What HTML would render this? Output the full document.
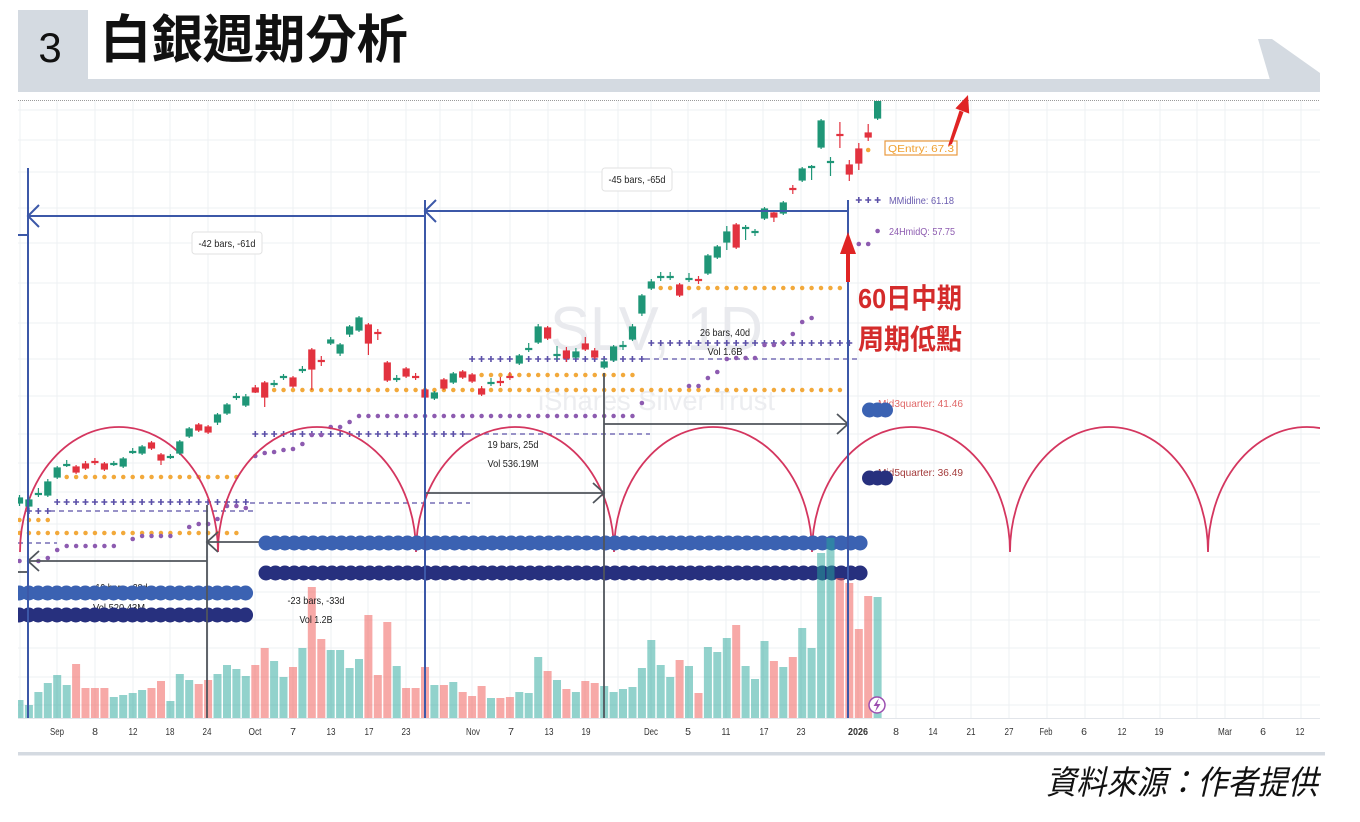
<!DOCTYPE html>
<html><head><meta charset="utf-8"><style>
html,body{margin:0;padding:0;background:#fff;}
svg{display:block;}
text{font-family:"Liberation Sans","Noto Sans CJK TC",sans-serif;}
</style></head><body>
<svg width="1360" height="822" viewBox="0 0 1360 822" xmlns="http://www.w3.org/2000/svg">
<defs><clipPath id="pc"><rect x="18" y="101" width="1302" height="617"/></clipPath></defs>
<!-- header -->
<rect x="18" y="10" width="70" height="69" fill="#d4dae1"/>
<rect x="18" y="79" width="1302" height="13" fill="#d4dae1"/>
<polygon points="1258,39 1272,39 1320,73 1320,80 1270,80" fill="#d4dae1"/>
<text x="50" y="62" font-size="42" text-anchor="middle" fill="#111">3</text>
<text x="100" y="58" font-size="52" font-weight="700" fill="#111" textLength="308" lengthAdjust="spacingAndGlyphs" style="font-family:'Liberation Sans','Noto Sans CJK TC',sans-serif">白銀週期分析</text>
<line x1="18" y1="100.5" x2="1320" y2="100.5" stroke="#9a9a9a" stroke-width="1" stroke-dasharray="1 1"/>

<!-- grid -->
<path d="M20,101V718M57,101V718M95,101V718M133,101V718M170,101V718M208,101V718M255,101V718M293,101V718M331,101V718M368,101V718M406,101V718M440,101V718M472,101V718M510,101V718M548,101V718M585,101V718M618,101V718M651,101V718M688,101V718M726,101V718M763,101V718M801,101V718M829,101V718M858,101V718M896,101V718M934,101V718M971,101V718M1009,101V718M1047,101V718M1085,101V718M1123,101V718M1160,101V718M1197,101V718M1225,101V718M1263,101V718M1301,101V718" stroke="#eef0f3" stroke-width="1" fill="none"/>
<path d="M18,110H1320M18,140H1320M18,172H1320M18,208H1320M18,243H1320M18,283H1320M18,323H1320M18,359H1320M18,396H1320M18,434H1320M18,463H1320M18,492H1320M18,524H1320M18,557H1320M18,592H1320M18,620H1320M18,648H1320M18,677H1320M18,705H1320" stroke="#eef0f3" stroke-width="1" fill="none"/>
<line x1="18" y1="718.5" x2="1320" y2="718.5" stroke="#e2e5ea" stroke-width="1"/>

<!-- watermark -->
<text x="550" y="350" font-size="62" fill="#e9eaee" textLength="213" lengthAdjust="spacingAndGlyphs">SLV, 1D</text>
<text x="538" y="410" font-size="28" fill="#ecedf0" textLength="237" lengthAdjust="spacingAndGlyphs">iShares Silver Trust</text>

<g clip-path="url(#pc)">
<!-- orange dots -->
<g stroke="#f2a93b" stroke-width="4.5" stroke-linecap="round" stroke-dasharray="0 9.43" fill="none">
<line x1="66.7" y1="477" x2="245.8" y2="477"/>
<line x1="19.5" y1="533" x2="245.8" y2="533"/>
<line x1="19.5" y1="520" x2="47.8" y2="520"/>
<line x1="264.7" y1="390" x2="849.3" y2="390"/>
<line x1="481.6" y1="375" x2="641.9" y2="375"/>
<line x1="660.7" y1="288" x2="849.3" y2="288"/>
<line x1="868.2" y1="150" x2="877.6" y2="150"/>
</g>
<!-- purple crosses -->
<g stroke="#5b50a8" fill="none">
<g stroke-width="1.6" stroke-dasharray="6 3.43">
<line x1="54.2" y1="502" x2="248.8" y2="502"/>
<line x1="25.9" y1="511" x2="50.8" y2="511"/>
<line x1="252.3" y1="434" x2="465.7" y2="434"/>
<line x1="469.1" y1="359" x2="644.9" y2="359"/>
<line x1="648.3" y1="343" x2="852.3" y2="343"/>
<line x1="855.8" y1="200" x2="880.6" y2="200"/>
</g>
<g stroke-width="6" stroke-dasharray="1.6 7.83">
<line x1="56.4" y1="502" x2="246.6" y2="502"/>
<line x1="28.1" y1="511" x2="48.6" y2="511"/>
<line x1="254.5" y1="434" x2="463.5" y2="434"/>
<line x1="471.3" y1="359" x2="642.7" y2="359"/>
<line x1="650.5" y1="343" x2="850.1" y2="343"/>
<line x1="858" y1="200" x2="878.4" y2="200"/>
</g>
<g stroke-width="1.2" stroke-dasharray="5 4">
<line x1="50" y1="511" x2="257" y2="511"/>
<line x1="250" y1="503" x2="470" y2="503"/>
<line x1="466" y1="434" x2="650" y2="434"/>
<line x1="645" y1="359" x2="858" y2="359"/>
<line x1="18" y1="543" x2="57" y2="543"/>
</g>
</g>
<!-- purple dots -->
<g fill="#8d5bb0">
<g stroke="#8d5bb0" stroke-width="4.5" stroke-linecap="round" stroke-dasharray="0 9.43" fill="none">
<line x1="66.7" y1="546" x2="123.2" y2="546"/>
<line x1="142.1" y1="536" x2="179.8" y2="536"/>
<line x1="359" y1="416" x2="632.5" y2="416"/>
</g>
<circle cx="19.5" cy="561" r="2.3"/><circle cx="38.4" cy="561" r="2.3"/><circle cx="47.8" cy="558" r="2.3"/><circle cx="57.2" cy="550" r="2.3"/>
<circle cx="132.7" cy="539" r="2.3"/><circle cx="189.2" cy="527" r="2.3"/><circle cx="198.7" cy="524" r="2.3"/><circle cx="208.1" cy="524" r="2.3"/><circle cx="217.5" cy="519" r="2.3"/><circle cx="227" cy="506" r="2.3"/><circle cx="236.4" cy="506" r="2.3"/><circle cx="245.8" cy="508" r="2.3"/>
<circle cx="255.3" cy="456" r="2.3"/><circle cx="264.7" cy="453" r="2.3"/><circle cx="274.1" cy="452" r="2.3"/><circle cx="283.5" cy="450" r="2.3"/><circle cx="293" cy="449" r="2.3"/><circle cx="302.4" cy="444" r="2.3"/><circle cx="311.8" cy="435" r="2.3"/><circle cx="321.3" cy="435" r="2.3"/><circle cx="330.7" cy="427" r="2.3"/><circle cx="340.1" cy="427" r="2.3"/><circle cx="349.6" cy="422" r="2.3"/>
<circle cx="641.9" cy="403" r="2.3"/><circle cx="689" cy="386" r="2.3"/><circle cx="698.5" cy="386" r="2.3"/><circle cx="707.9" cy="378" r="2.3"/><circle cx="717.3" cy="372" r="2.3"/><circle cx="726.8" cy="359" r="2.3"/><circle cx="736.2" cy="358" r="2.3"/><circle cx="745.6" cy="358" r="2.3"/><circle cx="755" cy="358" r="2.3"/><circle cx="764.5" cy="345" r="2.3"/><circle cx="773.9" cy="345" r="2.3"/><circle cx="783.3" cy="343" r="2.3"/><circle cx="792.8" cy="334" r="2.3"/><circle cx="802.2" cy="322" r="2.3"/><circle cx="811.6" cy="318" r="2.3"/>
<circle cx="858.8" cy="244" r="2.3"/><circle cx="868.2" cy="244" r="2.3"/><circle cx="877.6" cy="231" r="2.3"/>
</g>

<!-- cycle arcs -->
<path d="M20,552A99,125 0 0 1 218,552A99,125 0 0 1 416,552A99,125 0 0 1 614,552A99,125 0 0 1 812,552A99,125 0 0 1 1010,552A99,125 0 0 1 1208,552A99,125 0 0 1 1406,552" fill="none" stroke="#d4365f" stroke-width="1.8"/>

<!-- hidden labels under dots -->
<g font-size="10.5" fill="#222" text-anchor="middle">
<text x="120" y="591" textLength="55" lengthAdjust="spacingAndGlyphs">-19 bars, -28d</text>
<text x="119" y="611" textLength="52" lengthAdjust="spacingAndGlyphs">Vol 520.43M</text>
</g>
<line x1="207" y1="542" x2="425" y2="542" stroke="#50555c" stroke-width="1.8"/>

<!-- big dot rows -->
<g fill="none" stroke-linecap="round" stroke-dasharray="0 9.43" stroke-width="15">
<line x1="266" y1="543" x2="860.1" y2="543" stroke="#3b62b2"/>
<line x1="266" y1="573" x2="860.1" y2="573" stroke="#27307e"/>
<line x1="19.25" y1="593" x2="255" y2="593" stroke="#3b62b2"/>
<line x1="19.25" y1="615" x2="255" y2="615" stroke="#27307e"/>
</g>

<!-- volume -->
<g fill="rgba(38,166,154,0.5)">
<rect x="15.5" y="700" width="8" height="18"/><rect x="24.9" y="705" width="8" height="13"/><rect x="34.4" y="692" width="8" height="26"/><rect x="43.8" y="683" width="8" height="35"/><rect x="53.2" y="675" width="8" height="43"/><rect x="62.7" y="685" width="8" height="33"/>
<rect x="109.8" y="697" width="8" height="21"/><rect x="119.2" y="695" width="8" height="23"/><rect x="128.7" y="693" width="8" height="25"/><rect x="138.1" y="690" width="8" height="28"/>
<rect x="166.4" y="701" width="8" height="17"/><rect x="175.8" y="674" width="8" height="44"/><rect x="185.2" y="680" width="8" height="38"/>
<rect x="213.5" y="674" width="8" height="44"/><rect x="223" y="665" width="8" height="53"/><rect x="232.4" y="669" width="8" height="49"/><rect x="241.8" y="676" width="8" height="42"/>
<rect x="270.1" y="661" width="8" height="57"/><rect x="279.5" y="677" width="8" height="41"/><rect x="298.4" y="648" width="8" height="70"/>
<rect x="326.7" y="650" width="8" height="68"/><rect x="336.1" y="650" width="8" height="68"/><rect x="345.6" y="668" width="8" height="50"/><rect x="355" y="659" width="8" height="59"/>
<rect x="392.7" y="666" width="8" height="52"/><rect x="430.4" y="685" width="8" height="33"/><rect x="449.3" y="682" width="8" height="36"/><rect x="487" y="698" width="8" height="20"/>
<rect x="515.3" y="692" width="8" height="26"/><rect x="524.7" y="693" width="8" height="25"/><rect x="534.2" y="657" width="8" height="61"/><rect x="553" y="680" width="8" height="38"/><rect x="571.9" y="692" width="8" height="26"/>
<rect x="600.2" y="686" width="8" height="32"/><rect x="609.6" y="692" width="8" height="26"/><rect x="619" y="689" width="8" height="29"/><rect x="628.5" y="687" width="8" height="31"/><rect x="637.9" y="668" width="8" height="50"/><rect x="647.3" y="640" width="8" height="78"/><rect x="656.7" y="665" width="8" height="53"/><rect x="666.2" y="677" width="8" height="41"/>
<rect x="685" y="666" width="8" height="52"/><rect x="703.9" y="647" width="8" height="71"/><rect x="713.3" y="652" width="8" height="66"/><rect x="722.8" y="638" width="8" height="80"/>
<rect x="741.6" y="666" width="8" height="52"/><rect x="751" y="679" width="8" height="39"/><rect x="760.5" y="641" width="8" height="77"/><rect x="779.3" y="667" width="8" height="51"/>
<rect x="798.2" y="628" width="8" height="90"/><rect x="807.6" y="648" width="8" height="70"/><rect x="817.1" y="553" width="8" height="165"/><rect x="826.5" y="538" width="8" height="180"/><rect x="873.6" y="597" width="8" height="121"/>
</g>
<g fill="rgba(239,83,80,0.5)">
<rect x="72.1" y="664" width="8" height="54"/><rect x="81.5" y="688" width="8" height="30"/><rect x="90.9" y="688" width="8" height="30"/><rect x="100.4" y="688" width="8" height="30"/>
<rect x="147.5" y="688" width="8" height="30"/><rect x="157" y="681" width="8" height="37"/><rect x="194.7" y="684" width="8" height="34"/><rect x="204.1" y="680" width="8" height="38"/>
<rect x="251.3" y="665" width="8" height="53"/><rect x="260.7" y="648" width="8" height="70"/><rect x="289" y="667" width="8" height="51"/><rect x="307.8" y="587" width="8" height="131"/><rect x="317.3" y="639" width="8" height="79"/>
<rect x="364.4" y="615" width="8" height="103"/><rect x="373.8" y="675" width="8" height="43"/><rect x="383.3" y="622" width="8" height="96"/>
<rect x="402.1" y="688" width="8" height="30"/><rect x="411.6" y="688" width="8" height="30"/><rect x="421" y="667" width="8" height="51"/><rect x="439.9" y="685" width="8" height="33"/>
<rect x="458.7" y="692" width="8" height="26"/><rect x="468.1" y="696" width="8" height="22"/><rect x="477.6" y="686" width="8" height="32"/><rect x="496.4" y="698" width="8" height="20"/><rect x="505.9" y="697" width="8" height="21"/>
<rect x="543.6" y="671" width="8" height="47"/><rect x="562.4" y="689" width="8" height="29"/><rect x="581.3" y="681" width="8" height="37"/><rect x="590.7" y="683" width="8" height="35"/>
<rect x="675.6" y="660" width="8" height="58"/><rect x="694.5" y="693" width="8" height="25"/><rect x="732.2" y="625" width="8" height="93"/><rect x="769.9" y="661" width="8" height="57"/><rect x="788.8" y="657" width="8" height="61"/>
<rect x="835.9" y="578" width="8" height="140"/><rect x="845.3" y="583" width="8" height="135"/><rect x="854.8" y="629" width="8" height="89"/><rect x="864.2" y="596" width="8" height="122"/>
</g>

<!-- candles green -->
<g stroke="#1f9677" fill="#1f9677" stroke-width="1.2">
<line x1="19.5" y1="495" x2="19.5" y2="506"/><rect x="16.5" y="498" width="6" height="5"/>
<line x1="28.9" y1="497" x2="28.9" y2="508"/><rect x="25.9" y="500" width="6" height="6"/>
<line x1="38.4" y1="488" x2="38.4" y2="497"/><rect x="35.4" y="493.5" width="6" height="1"/>
<line x1="47.8" y1="479" x2="47.8" y2="497"/><rect x="44.8" y="482" width="6" height="13"/>
<line x1="57.2" y1="466" x2="57.2" y2="479"/><rect x="54.2" y="468" width="6" height="9"/>
<line x1="66.7" y1="460" x2="66.7" y2="467"/><rect x="63.7" y="464.5" width="6" height="1"/>
<line x1="113.8" y1="461" x2="113.8" y2="466"/><rect x="110.8" y="463.5" width="6" height="1"/>
<line x1="123.2" y1="457" x2="123.2" y2="468"/><rect x="120.2" y="459" width="6" height="7"/>
<line x1="132.7" y1="448" x2="132.7" y2="454"/><rect x="129.7" y="451.5" width="6" height="1"/>
<line x1="142.1" y1="445" x2="142.1" y2="455"/><rect x="139.1" y="447" width="6" height="6"/>
<line x1="170.4" y1="454" x2="170.4" y2="459"/><rect x="167.4" y="456.5" width="6" height="1"/>
<line x1="179.8" y1="440" x2="179.8" y2="455"/><rect x="176.8" y="442" width="6" height="11"/>
<line x1="189.2" y1="427" x2="189.2" y2="438"/><rect x="186.2" y="429" width="6" height="7"/>
<line x1="217.5" y1="413" x2="217.5" y2="425"/><rect x="214.5" y="415" width="6" height="7"/>
<line x1="227" y1="403" x2="227" y2="415"/><rect x="224" y="405" width="6" height="8"/>
<line x1="236.4" y1="393" x2="236.4" y2="400"/><rect x="233.4" y="396.5" width="6" height="1"/>
<line x1="245.8" y1="394" x2="245.8" y2="407"/><rect x="242.8" y="397" width="6" height="8"/>
<line x1="274.1" y1="380" x2="274.1" y2="387"/><rect x="271.1" y="383.5" width="6" height="1"/>
<line x1="283.5" y1="374" x2="283.5" y2="380"/><rect x="280.5" y="376.5" width="6" height="1"/>
<line x1="302.4" y1="366" x2="302.4" y2="373"/><rect x="299.4" y="369.5" width="6" height="1"/>
<line x1="330.7" y1="337" x2="330.7" y2="345"/><rect x="327.7" y="340" width="6" height="3"/>
<line x1="340.1" y1="343" x2="340.1" y2="356"/><rect x="337.1" y="345" width="6" height="8"/>
<line x1="349.6" y1="325" x2="349.6" y2="337"/><rect x="346.6" y="327" width="6" height="7"/>
<line x1="359" y1="316" x2="359" y2="332"/><rect x="356" y="318" width="6" height="12"/>
<line x1="396.7" y1="375" x2="396.7" y2="382"/><rect x="393.7" y="378.5" width="6" height="1"/>
<line x1="434.4" y1="391" x2="434.4" y2="400"/><rect x="431.4" y="393" width="6" height="5"/>
<line x1="453.3" y1="372" x2="453.3" y2="384"/><rect x="450.3" y="374" width="6" height="8"/>
<line x1="491" y1="378" x2="491" y2="386"/><rect x="488" y="382.5" width="6" height="1"/>
<line x1="519.3" y1="354" x2="519.3" y2="365"/><rect x="516.3" y="356" width="6" height="7"/>
<line x1="528.7" y1="343" x2="528.7" y2="352"/><rect x="525.7" y="348.5" width="6" height="1"/>
<line x1="538.2" y1="324" x2="538.2" y2="344"/><rect x="535.2" y="327" width="6" height="15"/>
<line x1="557" y1="346" x2="557" y2="360"/><rect x="554" y="354.5" width="6" height="1"/>
<line x1="575.9" y1="348" x2="575.9" y2="359"/><rect x="572.9" y="352" width="6" height="5"/>
<line x1="604.2" y1="359" x2="604.2" y2="369"/><rect x="601.2" y="362" width="6" height="5"/>
<line x1="613.6" y1="345" x2="613.6" y2="362"/><rect x="610.6" y="347" width="6" height="13"/>
<line x1="623" y1="341" x2="623" y2="350"/><rect x="620" y="345.5" width="6" height="1"/>
<line x1="632.5" y1="324" x2="632.5" y2="341"/><rect x="629.5" y="327" width="6" height="12"/>
<line x1="641.9" y1="294" x2="641.9" y2="316"/><rect x="638.9" y="296" width="6" height="17"/>
<line x1="651.3" y1="279" x2="651.3" y2="290"/><rect x="648.3" y="282" width="6" height="6"/>
<line x1="660.7" y1="272" x2="660.7" y2="281"/><rect x="657.7" y="276.5" width="6" height="1"/>
<line x1="670.2" y1="272" x2="670.2" y2="280"/><rect x="667.2" y="276.5" width="6" height="1"/>
<line x1="689" y1="273" x2="689" y2="282"/><rect x="686" y="278.5" width="6" height="1"/>
<line x1="707.9" y1="254" x2="707.9" y2="275"/><rect x="704.9" y="256" width="6" height="17"/>
<line x1="717.3" y1="245" x2="717.3" y2="259"/><rect x="714.3" y="247" width="6" height="10"/>
<line x1="726.8" y1="226" x2="726.8" y2="250"/><rect x="723.8" y="232" width="6" height="10"/>
<line x1="745.6" y1="225" x2="745.6" y2="240"/><rect x="742.6" y="227.5" width="6" height="1"/>
<line x1="755" y1="229" x2="755" y2="236"/><rect x="752" y="231.5" width="6" height="1"/>
<line x1="764.5" y1="207" x2="764.5" y2="220"/><rect x="761.5" y="209" width="6" height="9"/>
<line x1="783.3" y1="201" x2="783.3" y2="215"/><rect x="780.3" y="203" width="6" height="10"/>
<line x1="802.2" y1="167" x2="802.2" y2="182"/><rect x="799.2" y="169" width="6" height="11"/>
<line x1="811.6" y1="165" x2="811.6" y2="180"/><rect x="808.6" y="166.5" width="6" height="1"/>
<line x1="821.1" y1="119" x2="821.1" y2="149"/><rect x="818.1" y="121" width="6" height="26"/>
<line x1="830.5" y1="157" x2="830.5" y2="176"/><rect x="827.5" y="161.5" width="6" height="1"/>
<line x1="877.6" y1="99" x2="877.6" y2="120"/><rect x="874.6" y="101" width="6" height="17"/>
</g>
<!-- candles red -->
<g stroke="#e2323f" fill="#e2323f" stroke-width="1.2">
<line x1="76.1" y1="465" x2="76.1" y2="474"/><rect x="73.1" y="467" width="6" height="5"/>
<line x1="85.5" y1="461" x2="85.5" y2="470"/><rect x="82.5" y="464" width="6" height="4"/>
<line x1="94.9" y1="458" x2="94.9" y2="465"/><rect x="91.9" y="461.5" width="6" height="1"/>
<line x1="104.4" y1="462" x2="104.4" y2="471"/><rect x="101.4" y="464" width="6" height="5"/>
<line x1="151.5" y1="441" x2="151.5" y2="450"/><rect x="148.5" y="443" width="6" height="5"/>
<line x1="161" y1="453" x2="161" y2="465"/><rect x="158" y="455" width="6" height="5"/>
<line x1="198.7" y1="423" x2="198.7" y2="432"/><rect x="195.7" y="425" width="6" height="5"/>
<line x1="208.1" y1="425" x2="208.1" y2="434"/><rect x="205.1" y="427" width="6" height="5"/>
<line x1="255.3" y1="385" x2="255.3" y2="393"/><rect x="252.3" y="388" width="6" height="4"/>
<line x1="264.7" y1="381" x2="264.7" y2="407"/><rect x="261.7" y="383" width="6" height="14"/>
<line x1="293" y1="376" x2="293" y2="388"/><rect x="290" y="378" width="6" height="8"/>
<line x1="311.8" y1="348" x2="311.8" y2="390"/><rect x="308.8" y="350" width="6" height="19"/>
<line x1="321.3" y1="356" x2="321.3" y2="366"/><rect x="318.3" y="360.5" width="6" height="1"/>
<line x1="368.4" y1="323" x2="368.4" y2="355"/><rect x="365.4" y="325" width="6" height="18"/>
<line x1="377.8" y1="329" x2="377.8" y2="340"/><rect x="374.8" y="332.5" width="6" height="1"/>
<line x1="387.3" y1="361" x2="387.3" y2="382"/><rect x="384.3" y="363" width="6" height="17"/>
<line x1="406.1" y1="367" x2="406.1" y2="378"/><rect x="403.1" y="369" width="6" height="7"/>
<line x1="415.6" y1="373" x2="415.6" y2="380"/><rect x="412.6" y="376.5" width="6" height="1"/>
<line x1="425" y1="388" x2="425" y2="399"/><rect x="422" y="390" width="6" height="7"/>
<line x1="443.9" y1="378" x2="443.9" y2="390"/><rect x="440.9" y="380" width="6" height="8"/>
<line x1="462.7" y1="370" x2="462.7" y2="379"/><rect x="459.7" y="372" width="6" height="5"/>
<line x1="472.1" y1="373" x2="472.1" y2="383"/><rect x="469.1" y="375" width="6" height="6"/>
<line x1="481.6" y1="386" x2="481.6" y2="396"/><rect x="478.6" y="389" width="6" height="5"/>
<line x1="500.4" y1="377" x2="500.4" y2="386"/><rect x="497.4" y="381.5" width="6" height="1"/>
<line x1="509.9" y1="372" x2="509.9" y2="380"/><rect x="506.9" y="376.5" width="6" height="1"/>
<line x1="547.6" y1="326" x2="547.6" y2="340"/><rect x="544.6" y="328" width="6" height="10"/>
<line x1="566.4" y1="347" x2="566.4" y2="362"/><rect x="563.4" y="351" width="6" height="7"/>
<line x1="585.3" y1="337" x2="585.3" y2="351"/><rect x="582.3" y="344" width="6" height="5"/>
<line x1="594.7" y1="348" x2="594.7" y2="359"/><rect x="591.7" y="351" width="6" height="6"/>
<line x1="679.6" y1="283" x2="679.6" y2="297"/><rect x="676.6" y="285" width="6" height="10"/>
<line x1="698.5" y1="276" x2="698.5" y2="284"/><rect x="695.5" y="279.5" width="6" height="1"/>
<line x1="736.2" y1="223" x2="736.2" y2="249"/><rect x="733.2" y="225" width="6" height="22"/>
<line x1="773.9" y1="211" x2="773.9" y2="222"/><rect x="770.9" y="213" width="6" height="4"/>
<line x1="792.8" y1="185" x2="792.8" y2="194"/><rect x="789.8" y="188.5" width="6" height="1"/>
<line x1="839.9" y1="122" x2="839.9" y2="148"/><rect x="836.9" y="134.5" width="6" height="1"/>
<line x1="849.3" y1="160" x2="849.3" y2="181"/><rect x="846.3" y="165" width="6" height="9"/>
<line x1="858.8" y1="143" x2="858.8" y2="170"/><rect x="855.8" y="149" width="6" height="14"/>
<line x1="868.2" y1="124" x2="868.2" y2="141"/><rect x="865.2" y="133" width="6" height="4"/>
</g>

<!-- measurement lines -->
<g stroke="#50555c" stroke-width="1.8" fill="none">
<path d="M207,505V718M604,373V718"/>
<path d="M28,561H207M39,551L28,561L39,571"/>
<path d="M218,532L207,542L218,552"/>
<path d="M425,493H604M593,483L604,493L593,503"/>
<path d="M604,424H848M837,414L848,424L837,434"/>
<path d="M18,572H28"/>
</g>
<g stroke="#3c58a8" stroke-width="2" fill="none">
<path d="M28,168V718M425,200V718M848,200V718"/>
<path d="M28,216H425M39,205L28,216L39,227"/>
<path d="M425,211H848M436,200L425,211L436,222"/>
<path d="M18,235H28"/>
</g>
</g>

<!-- labels -->
<rect x="192" y="232" width="70" height="22" rx="3" fill="#fff" stroke="#e2e2e2"/>
<rect x="602" y="168" width="70" height="23" rx="3" fill="#fff" stroke="#e2e2e2"/>
<g font-size="10.5" fill="#222" text-anchor="middle">
<text x="227" y="247" textLength="57" lengthAdjust="spacingAndGlyphs">-42 bars, -61d</text>
<text x="637" y="183" textLength="57" lengthAdjust="spacingAndGlyphs">-45 bars, -65d</text>
<text x="725" y="336" textLength="50" lengthAdjust="spacingAndGlyphs">26 bars, 40d</text>
<text x="725" y="355" textLength="35" lengthAdjust="spacingAndGlyphs">Vol 1.6B</text>
<text x="513" y="448" textLength="51" lengthAdjust="spacingAndGlyphs">19 bars, 25d</text>
<text x="513" y="467" textLength="51" lengthAdjust="spacingAndGlyphs">Vol 536.19M</text>
<text x="316" y="604" textLength="57" lengthAdjust="spacingAndGlyphs">-23 bars, -33d</text>
<text x="316" y="623" textLength="33" lengthAdjust="spacingAndGlyphs">Vol 1.2B</text>
</g>

<!-- right side labels -->
<rect x="885" y="141" width="72" height="14" fill="#fff" stroke="#e89a40" stroke-width="1.2"/>
<g font-size="10.5">
<text x="888" y="152" fill="#f0a030" textLength="66" lengthAdjust="spacingAndGlyphs">QEntry: 67.3</text>
<text x="889" y="204" fill="#6a5cb0" textLength="65" lengthAdjust="spacingAndGlyphs">MMidline: 61.18</text>
<text x="889" y="235" fill="#8d5bb0" textLength="66" lengthAdjust="spacingAndGlyphs">24HmidQ: 57.75</text>
<text x="878" y="407" fill="#e06868" textLength="85" lengthAdjust="spacingAndGlyphs">Mid3quarter: 41.46</text>
<text x="878" y="476" fill="#a33a3a" textLength="85" lengthAdjust="spacingAndGlyphs">Mid5quarter: 36.49</text>
</g>
<g fill="#3b62b2"><circle cx="869.5" cy="410" r="7.5"/><circle cx="877.5" cy="410" r="7.5"/><circle cx="885.5" cy="410" r="7.5"/></g>
<g fill="#27307e"><circle cx="869.5" cy="478" r="7.5"/><circle cx="877.5" cy="478" r="7.5"/><circle cx="885.5" cy="478" r="7.5"/></g>

<!-- lightning icon -->
<circle cx="877" cy="705" r="8" fill="#fff" stroke="#9c4fb0" stroke-width="1.5"/>
<path d="M879,698L873.5,706H877L875,712L880.5,704H877Z" fill="#9c4fb0"/>

<!-- red annotations -->
<g fill="#e02424" stroke="none">
<rect x="846" y="250" width="4" height="32"/>
<polygon points="840,254 856,254 848,232"/>
<polygon points="948,146 952,144 963.5,112 959.5,110.5"/>
<polygon points="968,95 969.2,113.6 955.4,108.4"/>
</g>
<text x="858" y="308" font-size="28" font-weight="700" fill="#d42b2b" textLength="104" lengthAdjust="spacingAndGlyphs">60日中期</text>
<text x="858" y="349" font-size="28" font-weight="700" fill="#d42b2b" textLength="104" lengthAdjust="spacingAndGlyphs">周期低點</text>

<!-- x axis labels -->
<g font-size="10.5" fill="#333" text-anchor="middle">
<text x="57" y="735" textLength="14" lengthAdjust="spacingAndGlyphs">Sep</text>
<text x="95" y="735">8</text>
<text x="133" y="735" textLength="9" lengthAdjust="spacingAndGlyphs">12</text>
<text x="170" y="735" textLength="9" lengthAdjust="spacingAndGlyphs">18</text>
<text x="207" y="735" textLength="9" lengthAdjust="spacingAndGlyphs">24</text>
<text x="255" y="735" textLength="13" lengthAdjust="spacingAndGlyphs">Oct</text>
<text x="293" y="735">7</text>
<text x="331" y="735" textLength="9" lengthAdjust="spacingAndGlyphs">13</text>
<text x="369" y="735" textLength="9" lengthAdjust="spacingAndGlyphs">17</text>
<text x="406" y="735" textLength="9" lengthAdjust="spacingAndGlyphs">23</text>
<text x="473" y="735" textLength="14" lengthAdjust="spacingAndGlyphs">Nov</text>
<text x="511" y="735">7</text>
<text x="549" y="735" textLength="9" lengthAdjust="spacingAndGlyphs">13</text>
<text x="586" y="735" textLength="9" lengthAdjust="spacingAndGlyphs">19</text>
<text x="651" y="735" textLength="14" lengthAdjust="spacingAndGlyphs">Dec</text>
<text x="688" y="735">5</text>
<text x="726" y="735" textLength="9" lengthAdjust="spacingAndGlyphs">11</text>
<text x="764" y="735" textLength="9" lengthAdjust="spacingAndGlyphs">17</text>
<text x="801" y="735" textLength="9" lengthAdjust="spacingAndGlyphs">23</text>
<text x="858" y="735" font-weight="700" textLength="20" lengthAdjust="spacingAndGlyphs">2026</text>
<text x="896" y="735">8</text>
<text x="933" y="735" textLength="9" lengthAdjust="spacingAndGlyphs">14</text>
<text x="971" y="735" textLength="9" lengthAdjust="spacingAndGlyphs">21</text>
<text x="1009" y="735" textLength="9" lengthAdjust="spacingAndGlyphs">27</text>
<text x="1046" y="735" textLength="13" lengthAdjust="spacingAndGlyphs">Feb</text>
<text x="1084" y="735">6</text>
<text x="1122" y="735" textLength="9" lengthAdjust="spacingAndGlyphs">12</text>
<text x="1159" y="735" textLength="9" lengthAdjust="spacingAndGlyphs">19</text>
<text x="1225" y="735" textLength="14" lengthAdjust="spacingAndGlyphs">Mar</text>
<text x="1263" y="735">6</text>
<text x="1300" y="735" textLength="9" lengthAdjust="spacingAndGlyphs">12</text>
</g>

<!-- footer -->
<rect x="18" y="752" width="1307" height="3.5" fill="#d4dae1"/>
<text x="1046" y="794" font-size="33" font-style="italic" fill="#111" textLength="272" lengthAdjust="spacingAndGlyphs">資料來源：作者提供</text>
</svg>
</body></html>
